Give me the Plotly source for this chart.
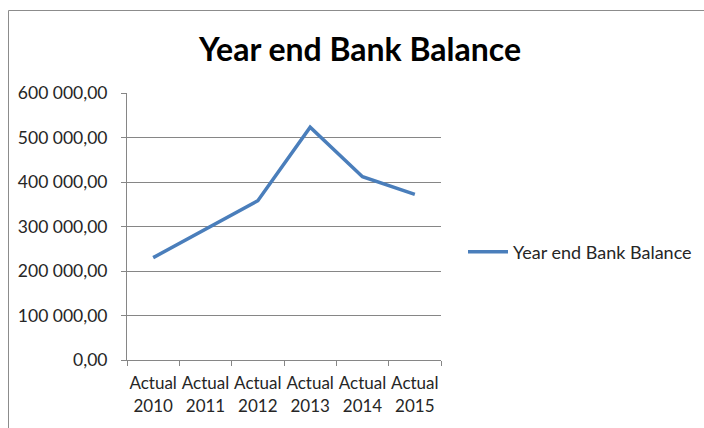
import plotly.graph_objects as go

categories = ["Actual<br>2010", "Actual<br>2011", "Actual<br>2012", "Actual<br>2013", "Actual<br>2014", "Actual<br>2015"]
balance = [230000, 295000, 358000, 523000, 412000, 372000]
series_name = "Year end Bank Balance"
y_ticks = [0, 100000, 200000, 300000, 400000, 500000, 600000]

L, R, T, B = 127, 263, 93, 68
W, H = 704, 428
pw, ph = W - L - R, H - T - B

def px(x):
    return (x - L) / pw

def py(y):
    return (H - B - y) / ph

FS = 17.5

fig = go.Figure()
fig.add_trace(go.Scatter(
    x=categories, y=balance, mode="lines", name=series_name,
    line=dict(color="#4a7ebb", width=3.5),
))

fig.update_layout(
    width=W, height=H,
    margin=dict(l=L, r=R, t=T, b=B, autoexpand=False),
    paper_bgcolor="white", plot_bgcolor="white",
    separators=", ",
    font=dict(family="Lato", size=FS, color="#262626"),
    title=dict(text="<b>Year end Bank Balance</b>", x=px(360), xref="paper", xanchor="center",
               y=1 - 50 / H, yref="container", yanchor="middle",
               font=dict(family="Lato", size=32, color="black")),
    showlegend=True,
    legend=dict(x=px(463), y=py(252), xanchor="left", yanchor="middle",
                font=dict(family="Lato", size=18, color="#262626"),
                bgcolor="rgba(0,0,0,0)", itemwidth=40),
    xaxis=dict(type="category", range=[-0.5, len(categories) - 0.5],
               tickson="boundaries", ticks="outside", ticklen=5, tickangle=0,
               tickcolor="#868686", showline=True, linecolor="#868686", linewidth=1,
               showgrid=False, ticklabelstandoff=8,
               tickfont=dict(family="Lato", size=17, color="#262626")),
    yaxis=dict(range=[0, 600000], tickvals=y_ticks, tickformat=",.2f",
               ticks="outside", ticklen=5, tickcolor="#868686",
               showline=True, linecolor="#868686", linewidth=1,
               showgrid=True, gridcolor="#868686", gridwidth=1, zeroline=False,
               ticklabelstandoff=10,
               tickfont=dict(family="Lato", size=FS, color="#262626")),
    shapes=[
        dict(type="line", xref="paper", yref="paper", x0=px(8.5), x1=px(8.5), y0=py(10.5), y1=py(440),
             line=dict(color="#8c8c8c", width=1)),
        dict(type="line", xref="paper", yref="paper", x0=px(8.5), x1=px(720), y0=py(10.5), y1=py(10.5),
             line=dict(color="#8c8c8c", width=1)),
    ],
)

fig.write_html("out.html", config={"displayModeBar": False},
               post_script="document.body.style.margin='0';")
